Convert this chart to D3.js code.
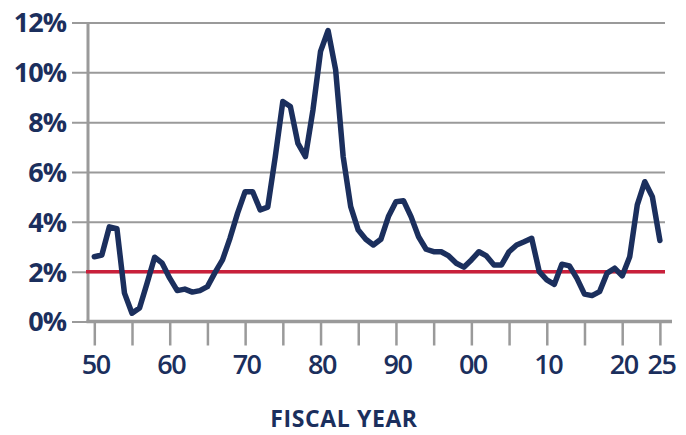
<!DOCTYPE html>
<html>
<head>
<meta charset="utf-8">
<script src="https://cdn.jsdelivr.net/npm/d3@7"></script>
<style>
  html, body { margin: 0; padding: 0; background: #fff; }
  svg { display: block; }
</style>
</head>
<body>
<svg id="chart" width="686" height="435"></svg>
<script>
const years = d3.range(1950, 2026);
const values = [
  2.6, 2.67, 3.8, 3.73, 1.14, 0.33, 0.54, 1.54, 2.58, 2.34,
  1.74, 1.24, 1.3, 1.18, 1.24, 1.4, 1.96, 2.47, 3.35, 4.35,
  5.21, 5.21, 4.48, 4.59, 6.62, 8.83, 8.63, 7.15, 6.62, 8.5,
  10.84, 11.68, 10.1, 6.62, 4.61, 3.67, 3.3, 3.07, 3.3, 4.21,
  4.81, 4.85, 4.21, 3.4, 2.9, 2.8, 2.8, 2.63, 2.34, 2.18,
  2.47, 2.8, 2.63, 2.27, 2.27, 2.8, 3.07, 3.2, 3.34, 2.0,
  1.67, 1.49, 2.3, 2.23, 1.73, 1.1, 1.04, 1.2, 1.94, 2.14,
  1.83, 2.6, 4.68, 5.61, 5.01, 3.25
];
const target = 2;
const yTicks = [0, 2, 4, 6, 8, 10, 12];
const yTickLabels = ["0%", "2%", "4%", "6%", "8%", "10%", "12%"];
const xTicks = d3.range(1950, 2026, 5);
const xLabelYears = [1950, 1960, 1970, 1980, 1990, 2000, 2010, 2020, 2025];
const xLabels = ["50", "60", "70", "80", "90", "00", "10", "20", "25"];
const xTitle = "FISCAL YEAR";

const navy = "#1b2f5d";
const red = "#c9203b";
const gray = "#9a9a9a";

const svg = d3.select("#chart");
const x = d3.scaleLinear().domain([1950, 2025]).range([94.3, 659.9]);
const y = d3.scaleLinear().domain([0, 12]).range([321.5, 22.5]);

const axisX = 88, plotRight = 665, axisRight = 672;

// Gridlines + left ticks
const yAxis = d3.axisLeft(y).tickValues(yTicks)
  .tickSize(-(plotRight - axisX)).tickSizeOuter(0)
  .tickFormat((d, i) => yTickLabels[i]).tickPadding(22);
const gy = svg.append("g").attr("transform", `translate(${axisX},0)`).call(yAxis);
gy.select(".domain").remove();
gy.selectAll(".tick line").attr("stroke", gray).attr("stroke-width", 2).attr("x1", -16);
gy.selectAll(".tick text")
  .attr("fill", navy).attr("font-family", "'Open Sans', sans-serif")
  .attr("font-weight", 700).attr("font-size", 27).attr("letter-spacing", -1)
  .attr("dy", "0.35em");

// Y axis vertical line
svg.append("line").attr("x1", axisX).attr("x2", axisX)
  .attr("y1", y(12)).attr("y2", y(0) + 1)
  .attr("stroke", gray).attr("stroke-width", 3);

// X axis
const xAxis = d3.axisBottom(x).tickValues(xTicks).tickSize(24).tickSizeOuter(0).tickFormat("");
const gx = svg.append("g").attr("transform", `translate(0,${y(0)})`).call(xAxis);
gx.select(".domain").remove();
gx.selectAll(".tick line").attr("stroke", gray).attr("stroke-width", 2.5);
svg.append("line").attr("x1", axisX - 1.5).attr("x2", axisRight)
  .attr("y1", y(0)).attr("y2", y(0))
  .attr("stroke", gray).attr("stroke-width", 3.5);

// X labels
svg.append("g").selectAll("text").data(xLabelYears).join("text")
  .attr("x", d => x(d) + 1.5).attr("y", 374)
  .attr("text-anchor", "middle")
  .attr("fill", navy).attr("font-family", "'Open Sans', sans-serif")
  .attr("font-weight", 600).attr("font-size", 27).attr("letter-spacing", -1.5)
  .text((d, i) => xLabels[i]);

// X title
svg.append("text").attr("x", 344).attr("y", 427)
  .attr("text-anchor", "middle")
  .attr("fill", navy).attr("font-family", "'Open Sans', sans-serif")
  .attr("font-weight", 700).attr("font-size", 23).attr("letter-spacing", 0.6)
  .text(xTitle);

// Target line
svg.append("line").attr("x1", axisX - 2).attr("x2", plotRight)
  .attr("y1", y(target)).attr("y2", y(target))
  .attr("stroke", red).attr("stroke-width", 3.5);

// Data line
const line = d3.line().x((d, i) => x(years[i])).y(d => y(d));
svg.append("path").datum(values)
  .attr("d", line).attr("fill", "none")
  .attr("stroke", navy).attr("stroke-width", 5.5)
  .attr("stroke-linejoin", "round").attr("stroke-linecap", "round");
</script>
</body>
</html>
